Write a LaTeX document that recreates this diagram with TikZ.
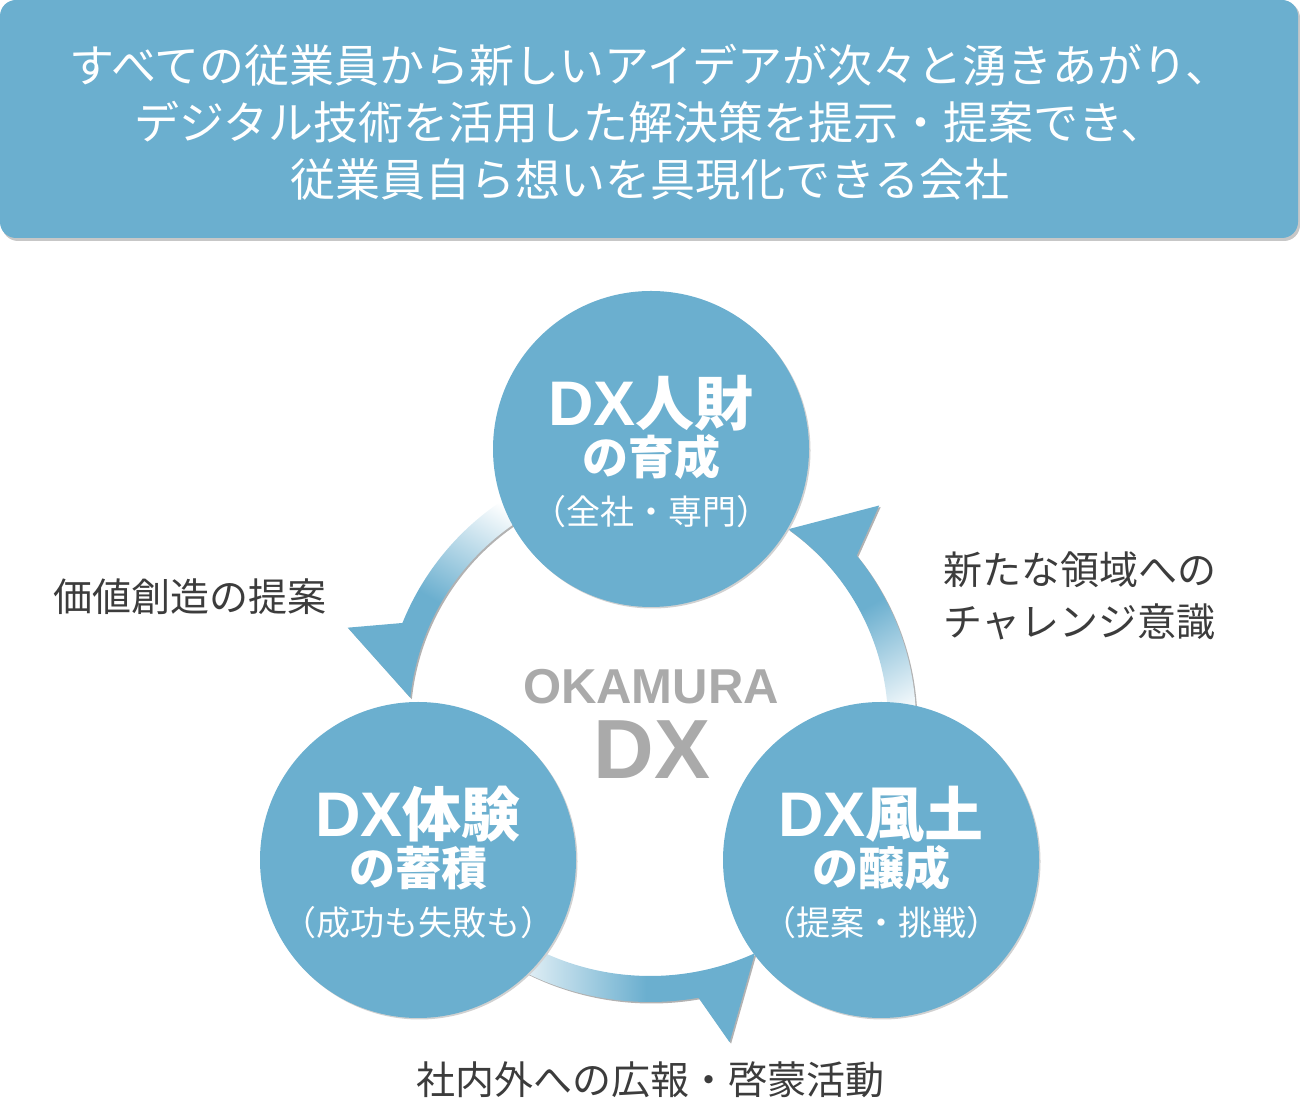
\documentclass[tikz,border=0pt]{standalone}
\usepackage{fontspec}
\setmainfont{Noto Sans CJK JP}
\newfontfamily\dxfont{Liberation Sans}
\usetikzlibrary{positioning,shapes}

\definecolor{dxblue}{RGB}{107,175,207}
\definecolor{dxgray}{RGB}{170,170,170}
\definecolor{dxtext}{RGB}{60,60,60}
\pgfdeclareverticalshading{arrowfade}{100bp}{color(0bp)=(white); color(32bp)=(white); color(57bp)=(dxblue); color(100bp)=(dxblue)}

% arrow round the ring: start, barb back, barb tip angle, tip angle, inner r, outer r, shading angle
\newcommand{\turnarrow}[7]{%
  \fill[black!30,xshift=1.5pt,yshift=-1.5pt] (#1:#6) arc[start angle=#1,end angle=#2,radius=#6]
    -- (#3:{#6+50}) -- (#4:#5) arc[start angle=#4,end angle=#1,radius=#5] -- cycle;
  \shade[shading=arrowfade,shading angle=#7] (#1:#6) arc[start angle=#1,end angle=#2,radius=#6]
    -- (#3:{#6+50}) -- (#4:#5) arc[start angle=#4,end angle=#1,radius=#5] -- cycle;
}

\begin{document}
\begin{tikzpicture}[x=1pt,y=1pt,
    pillar/.style={circle,fill=dxblue,minimum size=316pt,inner sep=0pt},
    pillarshadow/.style={circle,fill=black!18,minimum size=316pt,inner sep=0pt},
    head/.style={text=white,inner sep=0pt,font=\bfseries\fontsize{59}{59}\selectfont},
    sub/.style={text=white,inner sep=0pt,font=\bfseries\fontsize{46}{46}\selectfont},
    note/.style={text=white,inner sep=0pt,font=\fontsize{34}{34}\selectfont},
    side/.style={text=dxtext,inner sep=0pt,font=\fontsize{39}{52}\selectfont},
    brand/.style={text=dxgray,inner sep=0pt}]
  \useasboundingbox (0,0) rectangle (1300,1102);

  % vision box
  \fill[black!22,rounded corners=16] (2,861) rectangle (1300,1100);
  \fill[dxblue,rounded corners=16] (0,864) rectangle (1298,1102);
  \node[text=white,align=center,inner sep=0pt,font=\fontsize{45}{57}\selectfont] (vision) at (650,980)
    {すべての従業員から新しいアイデアが次々と湧きあがり、\\デジタル技術を活用した解決策を提示・提案でき、\\従業員自ら想いを具現化できる会社};

  % ring arrows
  \coordinate (O) at (650,379);
  \begin{scope}[shift={(O)}]
    \turnarrow{105}{158}{162.5}{174}{241}{267}{150}
    \turnarrow{-15}{39}{43.5}{54.5}{238}{266}{29}
    \turnarrow{225}{280}{284}{294.5}{253}{279}{-90}
  \end{scope}

  % three pillars
  \node[pillarshadow] (S0) at (652.5,651.5) {};
  \node[pillarshadow] (S1) at (419.5,240.5) {};
  \node[pillarshadow] (S2) at (882.5,240.5) {};
  \node[pillar] (C0) at (651,653) {};
  \node[pillar] (C1) at (418,242) {};
  \node[pillar] (C2) at (881,242) {};

  \node[head] (C0a) at ([yshift=46pt]C0.center) {{\dxfont\fontsize{63}{63}\selectfont DX}人財};
  \node[sub]  (C0b) at ([yshift=-8pt]C0.center) {の育成};
  \node[note] (C0c) at ([yshift=-63pt]C0.center) {（全社・専門）};

  \node[head] (C1a) at ([yshift=46pt]C1.center) {{\dxfont\fontsize{63}{63}\selectfont DX}体験};
  \node[sub]  (C1b) at ([yshift=-8pt]C1.center) {の蓄積};
  \node[note] (C1c) at ([yshift=-63pt]C1.center) {（成功も失敗も）};

  \node[head] (C2a) at ([yshift=46pt]C2.center) {{\dxfont\fontsize{63}{63}\selectfont DX}風土};
  \node[sub]  (C2b) at ([yshift=-8pt]C2.center) {の醸成};
  \node[note] (C2c) at ([yshift=-63pt]C2.center) {（提案・挑戦）};

  % centre mark
  \node[brand,font=\dxfont\bfseries\fontsize{49}{49}\selectfont] (okamura) at (651,415) {OKAMURA};
  \node[brand,font=\dxfont\bfseries\fontsize{84}{84}\selectfont] (dx) at (652,352) {DX};

  % arrow labels
  \node[side] (L01) at (190,505) {価値創造の提案};
  \node[side,anchor=west,align=left] (L20) at (943,506) {新たな領域への\\チャレンジ意識};
  \node[side] (L12) at (650,22) {社内外への広報・啓蒙活動};
\end{tikzpicture}
\end{document}
